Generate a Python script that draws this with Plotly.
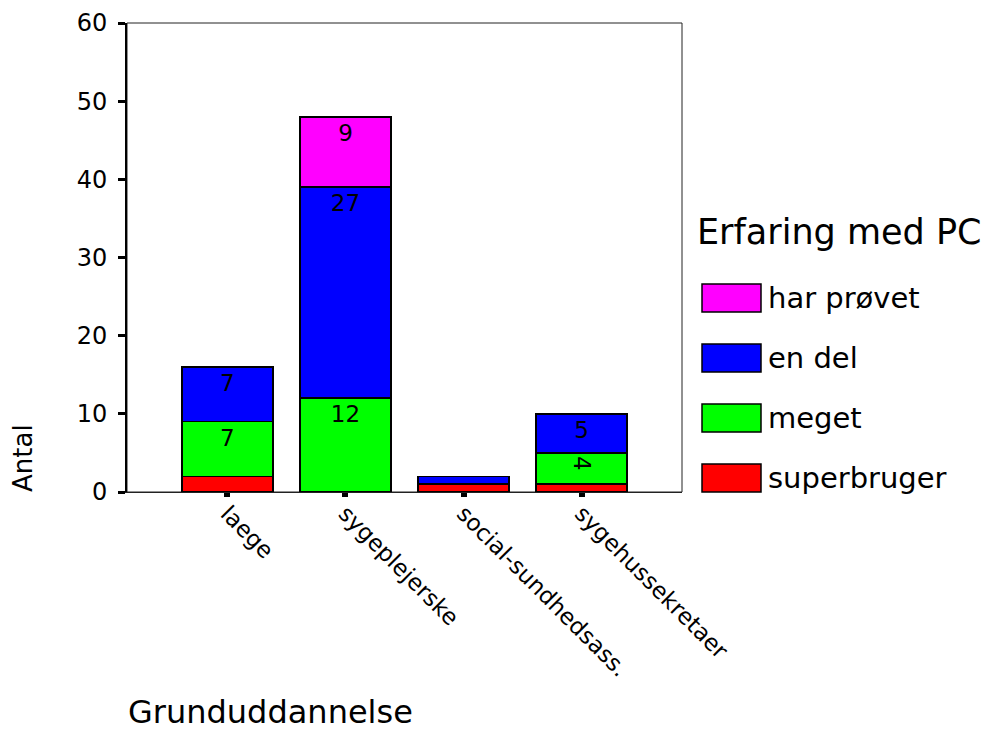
import plotly.graph_objects as go

# --- data ---
categories = ["laege", "sygeplejerske", "social-sundhedsass.", "sygehussekretaer"]

# stacked from bottom to top
superbruger = [2, 0, 1, 1]
meget = [7, 12, 0, 4]
en_del = [7, 27, 1, 5]
har_proevet = [0, 9, 0, 0]

series_names = ["superbruger", "meget", "en del", "har prøvet"]
series_values = [superbruger, meget, en_del, har_proevet]
series_colors = ["#FF0000", "#00FF00", "#0000FF", "#FF00FF"]

y_ticks = [0, 10, 20, 30, 40, 50, 60]

FONT = "DejaVu Sans"

# the page body has an 8px margin, so the figure is drawn 8px in from the window
OFF = 8
W, H = 1001 - OFF, 731 - OFF
# plot area edges in window pixels: x 127..682, y 23..492
L, T = 127 - OFF, 23 - OFF
R, B = W - (682 - OFF), H - (492 - OFF)
PW = W - L - R
PH = H - T - B


def px_x(px):
    # window pixel x -> paper x
    return (px - OFF - L) / PW


def px_y(py):
    # window pixel y -> paper y
    return (H - B - (py - OFF)) / PH


fig = go.Figure()

for name, vals, col in zip(series_names, series_values, series_colors):
    fig.add_trace(
        go.Bar(
            x=categories,
            y=vals,
            name=name,
            marker=dict(color=col, line=dict(color="black", width=1.5)),
            text=[str(v) if v else "" for v in vals],
            textposition="inside",
            insidetextanchor="end",
            textfont=dict(family=FONT, size=23, color="black"),
            showlegend=False,
        )
    )

fig.update_layout(
    width=W,
    height=H,
    barmode="stack",
    bargap=0.23,
    plot_bgcolor="white",
    paper_bgcolor="white",
    margin=dict(l=L, r=R, t=T, b=B, autoexpand=False),
    uniformtext=dict(minsize=23, mode="hide"),
    font=dict(family=FONT, color="black"),
)

fig.update_xaxes(
    range=[-0.85, 3.85],
    showgrid=False,
    showline=True,
    linecolor="#222",
    linewidth=1,
    ticks="outside",
    ticklen=4,
    tickwidth=6,
    tickcolor="black",
    tickangle=45,
    ticklabelstandoff=-6,
    tickfont=dict(family=FONT, size=23),
)

fig.update_yaxes(
    range=[0, 60],
    tickvals=y_ticks,
    showgrid=False,
    zeroline=False,
    showline=True,
    linecolor="black",
    linewidth=2,
    ticks="outside",
    ticklen=7,
    tickwidth=3,
    tickcolor="black",
    ticklabelstandoff=6,
    tickfont=dict(family=FONT, size=24),
)

# thin frame on top and right
fig.add_shape(
    type="rect", xref="paper", yref="paper", x0=0, x1=1, y0=0, y1=1,
    line=dict(color="#222", width=1), layer="below",
)

# axis titles
fig.add_annotation(
    text="Grunduddannelse", xref="paper", yref="paper",
    x=px_x(126), y=px_y(712), xanchor="left", yanchor="middle",
    showarrow=False, font=dict(family=FONT, size=32),
)
fig.add_annotation(
    text="Antal", xref="paper", yref="paper",
    x=px_x(23), y=px_y(458), xanchor="center", yanchor="middle",
    textangle=-90, showarrow=False, font=dict(family=FONT, size=26),
)

# legend drawn by hand (large swatches as in the reference)
fig.add_annotation(
    text="Erfaring med PC", xref="paper", yref="paper",
    x=px_x(695), y=px_y(232), xanchor="left", yanchor="middle",
    showarrow=False, font=dict(family=FONT, size=35),
)
row_y = [298, 358, 418, 478]
legend_order = list(zip(series_names, series_colors))[::-1]
for (name, col), cy in zip(legend_order, row_y):
    fig.add_shape(
        type="rect", xref="paper", yref="paper",
        x0=px_x(702), x1=px_x(761), y0=px_y(cy + 14), y1=px_y(cy - 14),
        fillcolor=col, line=dict(color="black", width=1.5),
    )
    fig.add_annotation(
        text=name, xref="paper", yref="paper",
        x=px_x(766), y=px_y(cy), xanchor="left", yanchor="middle",
        showarrow=False, font=dict(family=FONT, size=29),
    )

fig.write_html("out.html")
